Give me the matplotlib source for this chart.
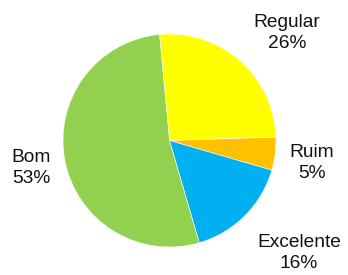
import matplotlib
matplotlib.use("Agg")
import matplotlib.pyplot as plt

categories = ["Regular", "Ruim", "Excelente", "Bom"]
values = [26, 5, 16, 53]
colors = ["#FFFF00", "#FFC000", "#00B0F0", "#92D050"]

# label centres in figure pixel coords (x, y from top)
label_pos = [(287, 33), (312, 163), (299, 253), (31, 168)]

W, H = 348, 275
fig = plt.figure(figsize=(W / 100, H / 100), dpi=100)
cx, cy, r = 169.5, 140.5, 106.5
ax = fig.add_axes([(cx - r) / W, (H - cy - r) / H, 2 * r / W, 2 * r / H])
ax.pie(values, colors=colors, startangle=95.4, counterclock=False,
       wedgeprops=dict(edgecolor="white", linewidth=0.4))
ax.set_xlim(-1, 1)
ax.set_ylim(-1, 1)
ax.set_aspect("auto")
ax.axis("off")

for cat, v, (px, py) in zip(categories, values, label_pos):
    fig.text(px / W, 1 - py / H, f"{cat}\n{v}%", ha="center", va="center",
             fontsize=13.8, family="Liberation Sans", color="#111111",
             linespacing=1.25)

fig.savefig("out.png", dpi=100)
